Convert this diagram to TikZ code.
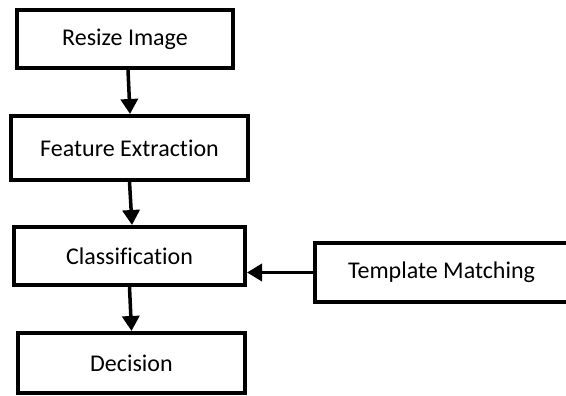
\documentclass[tikz,border=0pt]{standalone}
\usepackage{fontspec}
\setmainfont{Carlito}[Ligatures=NoCommon]
\usetikzlibrary{arrows.meta}
\begin{document}
\begin{tikzpicture}[x=1pt,y=-1pt,
  box/.style={draw=black,line width=4pt,fill=white,inner sep=0pt,font=\fontsize{24}{28}\selectfont},
  arr/.style={line width=3.5pt,-{Triangle[length=15pt,width=17pt]}}]
\useasboundingbox (0,0) rectangle (566,396);
\node[box,minimum width=216pt,minimum height=58pt] (r) at (125,39) {Resize Image};
\node[box,minimum width=237pt,minimum height=64pt] (f) at (129.5,148) {Feature Extraction};
\node[box,minimum width=231pt,minimum height=58pt] (c) at (129.5,256) {Classification};
\node[box,minimum width=227pt,minimum height=60pt] (d) at (131.5,363) {Decision};
\node[box,minimum width=253pt,minimum height=59pt] (t) at (441.5,272.5) {Template Matching};
\draw[arr] ([xshift=3pt]r.south) -- ([xshift=0.5pt]f.north);
\draw[arr] (f.south) -- ([xshift=2.5pt]c.north);
\draw[arr] (c.south) -- (d.north);
\draw[arr] (t.west) -- (t.west -| c.east);
\end{tikzpicture}
\end{document}
